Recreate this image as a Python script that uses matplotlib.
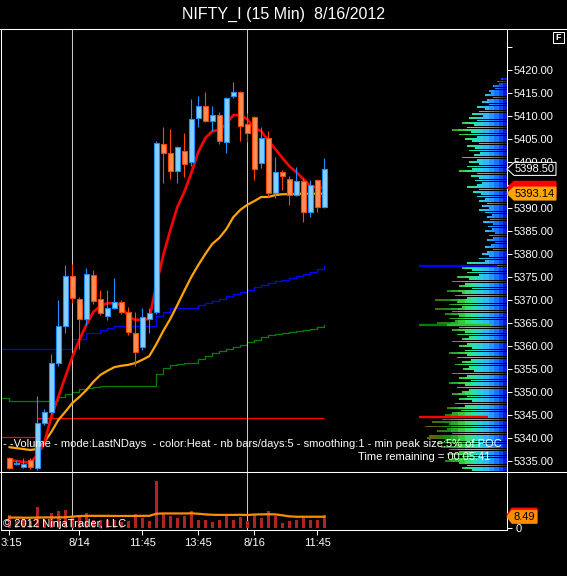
import numpy as np
import matplotlib
matplotlib.use('Agg')
import matplotlib.pyplot as plt
import matplotlib.transforms as mtransforms
from matplotlib.lines import Line2D
from matplotlib.patches import Polygon, Rectangle

plt.rcParams['font.family'] = ['Liberation Sans', 'DejaVu Sans']

title = 'NIFTY_I (15 Min)  8/16/2012'

# ---- 15 min bars (13:15 on 8/13 .. 12:00 on 8/16) ----
opens = [5335.6, 5334.4, 5333.6, 5335.2, 5333.4, 5343.3, 5345.6, 5356.3, 5364.4, 5375.2,
         5370.2, 5365.8, 5375.5, 5370.2, 5366.5, 5368.3, 5369.6, 5367.4, 5362.8, 5359.8,
         5365.9, 5367.4, 5403.9, 5402.0, 5398.0, 5402.4, 5400.0, 5409.6, 5412.2, 5409.0,
         5410.2, 5404.3, 5414.3, 5415.2, 5408.3, 5409.8, 5399.8, 5405.2, 5393.3, 5397.8,
         5396.3, 5392.8, 5395.9, 5389.1, 5396.1, 5390.2]
highs = [5335.9, 5335.2, 5335.7, 5335.7, 5349.1, 5346.2, 5358.3, 5370.0, 5377.6, 5377.8,
         5370.7, 5377.0, 5376.5, 5372.2, 5372.2, 5374.8, 5370.0, 5368.5, 5367.4, 5368.3,
         5368.3, 5404.6, 5407.6, 5407.2, 5403.5, 5406.3, 5413.7, 5414.3, 5415.2, 5412.2,
         5410.9, 5414.1, 5417.4, 5415.4, 5410.7, 5410.0, 5407.6, 5406.7, 5401.1, 5398.3,
         5397.0, 5398.9, 5396.5, 5396.1, 5396.3, 5400.9]
lows = [5333.2, 5334.1, 5333.4, 5333.3, 5333.0, 5342.8, 5345.2, 5355.7, 5362.8, 5369.3,
        5359.3, 5364.6, 5369.1, 5366.7, 5365.7, 5368.0, 5366.9, 5362.4, 5355.7, 5359.1,
        5362.8, 5367.0, 5395.4, 5396.3, 5395.4, 5396.7, 5399.1, 5407.6, 5408.7, 5406.7,
        5403.9, 5402.0, 5413.9, 5404.6, 5404.3, 5396.1, 5398.7, 5392.4, 5392.2, 5393.9,
        5390.7, 5392.6, 5387.0, 5388.0, 5389.1, 5390.0]
closes = [5333.5, 5334.6, 5334.3, 5333.6, 5343.3, 5345.6, 5356.3, 5364.4, 5375.2, 5370.4,
          5365.8, 5375.6, 5369.8, 5367.2, 5368.3, 5369.6, 5367.4, 5363.0, 5358.7, 5366.3,
          5367.2, 5404.1, 5402.0, 5398.0, 5403.3, 5399.6, 5409.3, 5412.2, 5409.0, 5410.2,
          5404.6, 5413.9, 5415.2, 5407.8, 5406.3, 5398.5, 5405.2, 5393.3, 5397.8, 5397.0,
          5392.8, 5395.9, 5389.1, 5395.0, 5390.2, 5398.5]

ema_fast = [5335.2, 5335.0, 5334.8, 5334.6, 5336.3, 5338.9, 5344.6, 5348.9, 5353.3, 5357.6,
            5361.3, 5364.6, 5367.4, 5368.7, 5369.3, 5369.3, 5368.9, 5366.3, 5365.7, 5365.7,
            5365.9, 5373.3, 5379.8, 5385.2, 5390.2, 5393.5, 5397.6, 5402.2, 5405.2, 5406.7,
            5407.0, 5408.3, 5410.2, 5410.2, 5409.3, 5407.4, 5406.7, 5404.6, 5402.8, 5400.9,
            5399.1, 5397.8, 5396.3, 5394.8, 5394.4, 5394.4]
ema_slow = [5338.0, 5337.8, 5337.6, 5337.4, 5337.6, 5339.1, 5341.3, 5343.9, 5345.7, 5347.6,
            5348.9, 5350.4, 5352.2, 5353.7, 5354.6, 5355.4, 5355.7, 5355.9, 5356.3, 5357.0,
            5357.8, 5360.4, 5363.3, 5365.9, 5368.9, 5372.0, 5375.0, 5377.6, 5380.0, 5382.2,
            5383.5, 5385.4, 5388.0, 5389.6, 5390.7, 5391.5, 5392.4, 5392.4, 5392.8, 5393.0,
            5393.0, 5393.1, 5393.1, 5393.1, 5393.1, 5393.14]

# developing value area (first value = level carried in from the left edge)
va_high = [5359.35, 5359.35, 5359.35, 5359.35, 5359.35, 5359.35, 5359.35, 5359.35, 5359.35, 5359.35,
           5361.52, 5361.52, 5362.83, 5362.83, 5363.48, 5363.91, 5364.35, 5364.35, 5364.35, 5364.35,
           5364.35, 5364.35, 5366.52, 5367.39, 5368.26, 5368.26, 5368.26, 5368.26, 5368.91, 5369.35,
           5369.78, 5370.22, 5370.87, 5371.30, 5371.74, 5372.17, 5372.83, 5373.26, 5373.70, 5374.13,
           5374.35, 5374.78, 5375.22, 5375.65, 5376.09, 5376.74, 5377.39]
va_low = [5348.70, 5348.04, 5348.04, 5348.04, 5348.04, 5348.04, 5348.04, 5348.04, 5348.91, 5349.57,
          5350.00, 5350.65, 5350.87, 5351.09, 5351.30, 5351.30, 5351.30, 5351.30, 5351.30, 5351.30,
          5351.30, 5351.30, 5353.91, 5355.22, 5355.87, 5356.09, 5356.30, 5356.30, 5357.17, 5357.83,
          5358.48, 5358.91, 5359.35, 5359.78, 5360.22, 5360.87, 5361.30, 5361.96, 5362.39, 5362.61,
          5362.83, 5363.04, 5363.26, 5363.48, 5363.70, 5364.13, 5364.57]
poc_prev = 5340.2
poc_now = 5344.4

volume = [9.8, 5.4, 6.9, 5.4, 16.2, 6.2, 11.6, 13.1, 13.9, 8.5,
          9.8, 11.6, 6.4, 5.9, 5.9, 6.4, 4.6, 5.4, 10.6, 7.9,
          5.4, 35.5, 10.3, 9.0, 7.2, 9.0, 13.1, 6.4, 6.4, 4.6,
          6.4, 10.6, 6.4, 8.5, 5.4, 9.8, 7.9, 13.1, 9.0, 3.9,
          5.4, 5.9, 7.2, 6.4, 6.4, 9.8]
vol_sma = [7.9, 7.9, 7.8, 7.8, 7.9, 8.0, 8.0, 8.0, 8.1, 8.6,
           9.0, 9.2, 9.2, 9.2, 9.2, 9.1, 9.1, 9.1, 9.1, 9.2,
           9.2, 10.8, 11.0, 11.0, 11.0, 11.0, 11.1, 10.8, 10.3, 10.0,
           9.9, 9.9, 9.9, 10.0, 9.8, 10.2, 10.3, 10.4, 10.3, 9.6,
           8.8, 8.5, 8.5, 8.5, 8.5, 8.49]

tick_pos = [0, 10, 19, 27, 35, 44]
tick_lab = ['3:15', '8/14', '11:45', '13:45', '8/16', '11:45']
day_breaks = [9, 34]

# volume at price, 5418.0 down to 5333.0 in 0.5 steps
profile_top = 5418.0
profile_step = 0.5
profile_volume = [6, 10, 8, 14, 12, 18, 16, 22, 14, 20,
                  25, 18, 30, 22, 28, 35, 24, 38, 30, 45,
                  33, 40, 55, 36, 48, 30, 42, 35, 28, 40,
                  32, 38, 27, 33, 45, 30, 38, 28, 40, 35,
                  48, 30, 36, 28, 32, 25, 30, 40, 28, 34,
                  26, 30, 22, 28, 20, 25, 18, 28, 22, 15,
                  20, 17, 24, 14, 19, 15, 22, 12, 18, 14,
                  20, 12, 16, 22, 14, 20, 25, 18, 28, 22,
                  40, 30, 45, 35, 40, 28, 50, 38, 55, 42,
                  48, 35, 60, 45, 52, 40, 72, 50, 58, 45,
                  72, 55, 62, 48, 58, 52, 70, 60, 48, 55,
                  42, 50, 38, 45, 55, 40, 48, 35, 42, 58,
                  40, 50, 36, 45, 52, 38, 44, 33, 55, 40,
                  48, 36, 58, 42, 50, 38, 45, 55, 40, 48,
                  35, 52, 42, 60, 46, 55, 62, 70, 65, 75,
                  58, 82, 60, 70, 55, 78, 80, 62, 70, 52,
                  66, 58, 48, 60, 45, 55, 62, 48, 40, 45, 35]

W, H = 567, 576
fig = plt.figure(figsize=(W / 100, H / 100), dpi=100, facecolor='black')

def fx(px):
    return px / W

def fy(py):
    return 1 - py / H

ax = fig.add_axes([fx(1), fy(472), 506 / W, (472 - 29) / H])
axv = fig.add_axes([fx(1), fy(530), 506 / W, (530 - 472) / H])
for a in (ax, axv):
    a.set_facecolor('black')
    for s in a.spines.values():
        s.set_color('white')
        s.set_linewidth(0.75)

n = len(closes)
x = np.arange(n)
o = np.array(opens); c = np.array(closes)
hi = np.array(highs); lo = np.array(lows)
xmin = -8.3 / 7
xmax = xmin + 506 / 7
ax.set_xlim(xmin, xmax)
axv.set_xlim(xmin, xmax)
ylo = 5420 - (472 - 70) / 4.6
yhi = 5420 + (70 - 29) / 4.6
ax.set_ylim(ylo, yhi)

# volume profile (heat colours by distance from the price axis, px)
bands = [(0, 4, '#0818d8'), (4, 8, '#1048f0'), (8, 13, '#1874ff'), (13, 18, '#2898ff'),
         (18, 24, '#30b8f0'), (24, 30, '#28d0d8'), (30, 36, '#28e0a8'), (36, 42, '#38e070'),
         (42, 49, '#38c840'), (49, 56, '#28a828'), (56, 64, '#1c8818'), (64, 72, '#3c7010'),
         (72, 80, '#686010'), (80, 100, '#7a4010')]
pv = np.array(profile_volume, dtype=float)
py = profile_top - profile_step * np.arange(len(pv))
for d0, d1, col in bands:
    seg_end = np.minimum(pv, d1)
    m = seg_end > d0
    if not m.any():
        continue
    ax.barh(py[m], (seg_end[m] - d0) / 7, left=xmax - seg_end[m] / 7, height=0.36,
            color=col, linewidth=0, zorder=1)
# value area / POC markers in the profile
ax.hlines(va_high[-1], xmax - 88 / 7, xmax - 10 / 7, color='#0000ff', lw=1.7, zorder=2)
ax.hlines(va_low[-1], xmax - 88 / 7, xmax - 60 / 7, color='#008000', lw=1.7, zorder=2)
ax.hlines(va_low[-1], xmax - 60 / 7, xmax - 15 / 7, color='#30c030', lw=1.7, zorder=2)
ax.hlines(poc_now + 0.2, xmax - 88 / 7, xmax - 19 / 7, color='#ff0000', lw=1.7, zorder=2)

# value area step lines and POC lines
xs = np.concatenate([[xmin], x])
ax.step(xs, va_high, where='post', color='#0000ff', lw=0.9, zorder=2)
ax.step(xs, va_low, where='post', color='#008000', lw=0.9, zorder=2)
ax.hlines(poc_prev, xmin, 4, color='#ff0000', lw=0.9, zorder=2)
ax.hlines(poc_now, 4, n - 1, color='#ff0000', lw=0.9, zorder=2)

ax.plot(x, ema_slow, color='#ffa500', lw=1.6, zorder=3, solid_capstyle='round')
ax.plot(x, ema_fast, color='#ff0000', lw=1.9, zorder=3, solid_capstyle='round')

for d in day_breaks:
    ax.axvline(d, color='#c8c8c8', lw=0.75, zorder=2.5)
    axv.axvline(d, color='#c8c8c8', lw=0.75, zorder=0.5)

# candles
up = c >= o
body_lo = np.minimum(o, c)
body_h = np.maximum(np.abs(c - o), 0.25)
ax.vlines(x[up], lo[up], hi[up], color='#1e90ff', lw=0.8, zorder=4)
ax.vlines(x[~up], lo[~up], hi[~up], color='#ff4500', lw=0.8, zorder=4)
ax.bar(x[up], body_h[up], bottom=body_lo[up], width=0.68, color='#87cefa',
       edgecolor='#1e90ff', linewidth=0.8, zorder=5)
ax.bar(x[~up], body_h[~up], bottom=body_lo[~up], width=0.68, color='#ff8c55',
       edgecolor='#ff4500', linewidth=0.8, zorder=5)

# price axis
yt = np.arange(5335, 5426, 5)
ax.yaxis.tick_right()
ax.set_yticks(yt)
ax.set_yticklabels(['%.2f' % v if v < 5425 else '' for v in yt])
ax.tick_params(axis='y', colors='white', length=3.6, width=0.75, labelsize=8, pad=1.5)
ax.tick_params(axis='x', bottom=False, labelbottom=False)

# volume panel
axv.bar(x, volume, width=0.5, color='#b22222', zorder=2)
axv.plot(x, vol_sma, color='#ff8c00', lw=1.6, zorder=3)
axv.set_ylim(-2.0 / 1.296, (527 - 472) / 1.296)
axv.yaxis.tick_right()
axv.set_yticks([0])
axv.set_yticklabels(['0'])
axv.set_xticks(tick_pos)
axv.set_xticklabels(tick_lab)
axv.tick_params(colors='white', length=3.6, width=0.75, labelsize=8, pad=2.5)
axv.spines['top'].set_visible(False)
# first label sits at the left edge (its leading digit is cut off in the original)
first = axv.get_xticklabels()[0]
first.set_transform(first.get_transform() +
                    mtransforms.ScaledTranslation(2.3 / 100, 0, fig.dpi_scale_trans))

# frame lines across the full width
for yy in (29, 472):
    fig.add_artist(Line2D([0, 1], [fy(yy), fy(yy)], color='white', lw=0.75,
                          transform=fig.transFigure))

fig.text(0.5, fy(14), title, ha='center', va='center', color='white', fontsize=11.5)
fig.text(fx(502), fy(444),
         '- -Volume - mode:LastNDays  - color:Heat - nb bars/days:5 - smoothing:1 - min peak size:5% of POC',
         ha='right', va='center', color='white', fontsize=8, zorder=10)
fig.text(fx(490), fy(457), 'Time remaining = 00:05:41', ha='right', va='center',
         color='white', fontsize=8, zorder=10)
fig.text(fx(3), fy(524), '\u00a9 2012 NinjaTrader, LLC', ha='left', va='center',
         color='white', fontsize=8, zorder=10)

# F box
fig.add_artist(Rectangle((fx(553), fy(43)), 11 / W, 11 / H, transform=fig.transFigure,
                         facecolor='black', edgecolor='white', lw=0.75))
fig.text(fx(558.5), fy(37.5), 'F', ha='center', va='center', color='white',
         fontsize=6.5, fontweight='bold')


def tag(axis, value, text, face, edge, tcol, arrow, w, h):
    xa = 507
    yd = axis.transData.transform((0, value))[1]
    yc = H - yd
    pts = [(xa, yc), (xa + arrow, yc - h / 2), (xa + arrow + w, yc - h / 2),
           (xa + arrow + w, yc + h / 2), (xa + arrow, yc + h / 2)]
    fig.add_artist(Polygon([(fx(p), fy(q)) for p, q in pts], closed=True,
                           transform=fig.transFigure, facecolor=face, edgecolor=edge,
                           lw=0.75, zorder=20))
    if text:
        fig.text(fx(xa + arrow + w / 2), fy(yc), text, ha='center', va='center',
                 color=tcol, fontsize=8, zorder=21)


tag(ax, ema_fast[-1], '', '#ff0000', '#ff0000', 'black', 7, 42, 13)
tag(ax, ema_slow[-1], '%.2f' % ema_slow[-1], '#ffa500', '#ffa500', 'black', 7, 42, 13)
tag(ax, closes[-1], '%.2f' % closes[-1], 'black', 'white', 'white', 7, 42, 13)
tag(axv, volume[-1], '', '#ff0000', '#ff0000', 'black', 5, 25, 14)
tag(axv, vol_sma[-1], '%.2f' % vol_sma[-1], '#ff8c00', '#ff8c00', 'black', 5, 25, 13)

fig.savefig('out.png', dpi=100, facecolor='black')
